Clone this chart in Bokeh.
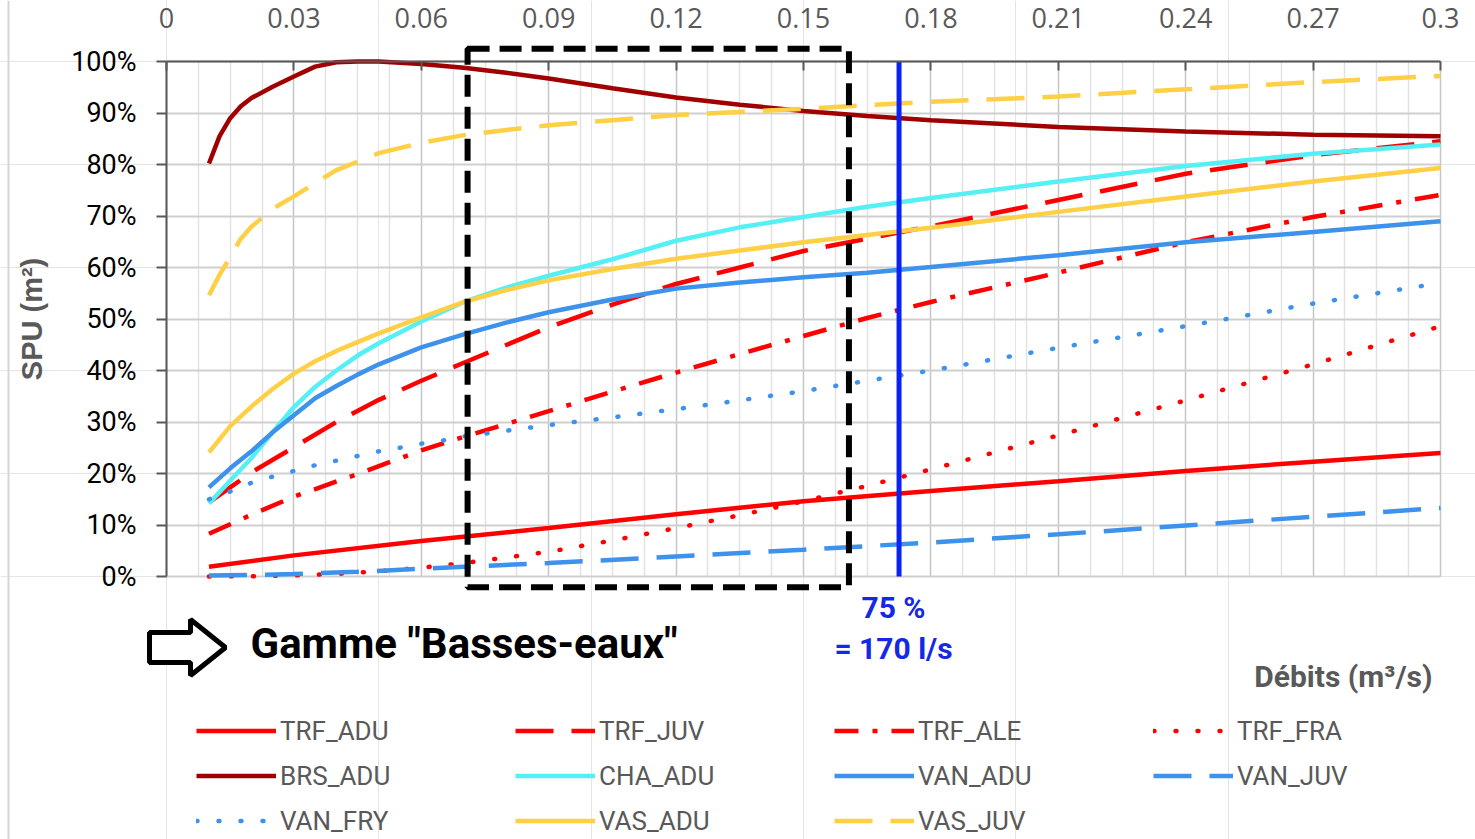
from bokeh.plotting import figure
from bokeh.models import (FixedTicker, Legend, LegendItem, BoxAnnotation, Span, Grid,
                          Label, PolyAnnotation, NumeralTickFormatter, Range1d, LinearAxis)
from bokeh.embed import file_html
from bokeh.resources import INLINE

# ---------------- data ----------------
X_TICKS = [0, 0.03, 0.06, 0.09, 0.12, 0.15, 0.18, 0.21, 0.24, 0.27, 0.3]
X_TICK_LABELS = ["0", "0.03", "0.06", "0.09", "0.12", "0.15", "0.18", "0.21", "0.24", "0.27", "0.3"]
Y_TICKS = [0, 10, 20, 30, 40, 50, 60, 70, 80, 90, 100]
Y_TICK_LABELS = ["0%", "10%", "20%", "30%", "40%", "50%", "60%", "70%", "80%", "90%", "100%"]

TRF_ADU_x = [0.01, 0.03, 0.06, 0.09, 0.12, 0.15, 0.18, 0.21, 0.24, 0.27, 0.30]
TRF_ADU_y = [1.9, 4.1, 6.9, 9.4, 12.1, 14.6, 16.6, 18.5, 20.5, 22.3, 24.0]

TRF_JUV_x = [0.01, 0.015, 0.02, 0.03, 0.04, 0.05, 0.06, 0.07, 0.09, 0.105, 0.12, 0.135,
             0.15, 0.165, 0.18, 0.21, 0.24, 0.27, 0.30]
TRF_JUV_y = [14.4, 17.3, 20.2, 25.1, 30.0, 34.3, 38.0, 41.5, 48.4, 52.8, 56.8, 60.0,
             63.2, 65.6, 68.0, 73.1, 78.2, 81.8, 84.5]

TRF_ALE_x = [0.01, 0.02, 0.03, 0.045, 0.06, 0.07, 0.09, 0.105, 0.12, 0.135, 0.15, 0.165,
             0.18, 0.21, 0.24, 0.27, 0.30]
TRF_ALE_y = [8.3, 12.0, 15.5, 19.9, 24.5, 27.1, 32.1, 35.9, 39.6, 43.2, 46.7, 50.2,
             53.3, 59.0, 64.9, 69.8, 74.1]

TRF_FRA_x = [0.01, 0.02, 0.03, 0.04, 0.05, 0.06, 0.07, 0.08, 0.09, 0.105, 0.12, 0.135,
             0.15, 0.165, 0.18, 0.21, 0.24, 0.27, 0.30]
TRF_FRA_y = [0.0, 0.05, 0.2, 0.5, 1.0, 1.7, 2.6, 3.7, 4.8, 7.0, 9.4, 11.9,
             14.6, 17.6, 20.8, 27.4, 34.2, 41.2, 48.6]

BRS_ADU_x = [0.01, 0.0125, 0.015, 0.0175, 0.02, 0.025, 0.03, 0.035, 0.04, 0.045, 0.05,
             0.06, 0.07, 0.08, 0.09, 0.105, 0.12, 0.135, 0.15, 0.165, 0.18, 0.21, 0.24,
             0.27, 0.30]
BRS_ADU_y = [80.2, 85.5, 89.0, 91.3, 92.9, 95.1, 97.1, 99.0, 99.85, 100.0, 100.0,
             99.5, 98.8, 97.8, 96.7, 94.8, 93.0, 91.6, 90.4, 89.4, 88.6, 87.3, 86.4,
             85.8, 85.5]

CHA_ADU_x = [0.01, 0.015, 0.02, 0.025, 0.03, 0.035, 0.04, 0.045, 0.05, 0.06, 0.07, 0.08,
             0.09, 0.105, 0.12, 0.135, 0.15, 0.165, 0.18, 0.21, 0.24, 0.27, 0.30]
CHA_ADU_y = [14.2, 18.6, 23.0, 28.0, 32.9, 36.8, 40.0, 42.9, 45.3, 49.5, 53.3, 56.1,
             58.4, 61.6, 65.2, 67.8, 69.8, 71.8, 73.5, 76.7, 79.7, 82.1, 83.9]

VAN_ADU_x = [0.01, 0.015, 0.02, 0.025, 0.03, 0.035, 0.04, 0.045, 0.05, 0.06, 0.07, 0.08,
             0.09, 0.105, 0.12, 0.135, 0.15, 0.165, 0.18, 0.21, 0.24, 0.27, 0.30]
VAN_ADU_y = [17.3, 21.0, 24.3, 28.0, 31.3, 34.6, 37.0, 39.2, 41.2, 44.5, 47.0, 49.3,
             51.3, 53.8, 55.9, 57.1, 58.1, 59.0, 60.1, 62.4, 64.9, 66.9, 69.0]

VAN_JUV_x = [0.01, 0.02, 0.03, 0.045, 0.06, 0.07, 0.09, 0.12, 0.15, 0.18, 0.21, 0.24, 0.27, 0.30]
VAN_JUV_y = [0.2, 0.3, 0.5, 0.9, 1.5, 1.9, 2.6, 3.9, 5.2, 6.6, 8.2, 9.9, 11.6, 13.3]

VAN_FRY_x = [0.01, 0.015, 0.02, 0.025, 0.03, 0.035, 0.04, 0.045, 0.05, 0.055, 0.06, 0.065,
             0.07, 0.08, 0.09, 0.105, 0.12, 0.135, 0.15, 0.165, 0.18, 0.21, 0.24, 0.27, 0.30]
VAN_FRY_y = [15.0, 16.5, 18.2, 19.4, 20.5, 21.6, 22.5, 23.4, 24.3, 25.0, 25.8, 26.4,
             27.2, 28.3, 29.4, 30.9, 32.5, 34.2, 36.0, 38.0, 40.0, 44.4, 48.6, 53.0, 57.0]

VAS_ADU_x = [0.01, 0.015, 0.02, 0.025, 0.03, 0.035, 0.04, 0.045, 0.05, 0.06, 0.07, 0.08,
             0.09, 0.105, 0.12, 0.135, 0.15, 0.165, 0.18, 0.21, 0.24, 0.27, 0.30]
VAS_ADU_y = [24.1, 29.2, 33.0, 36.4, 39.4, 41.8, 43.8, 45.5, 47.2, 50.3, 53.3, 55.6,
             57.5, 59.7, 61.7, 63.3, 64.9, 66.3, 67.7, 70.8, 73.8, 76.7, 79.3]

VAS_JUV_x = [0.01, 0.0125, 0.015, 0.0175, 0.02, 0.025, 0.03, 0.035, 0.04, 0.05, 0.06, 0.07,
             0.08, 0.09, 0.105, 0.12, 0.135, 0.15, 0.165, 0.18, 0.21, 0.24, 0.27, 0.30]
VAS_JUV_y = [54.6, 58.6, 62.0, 65.6, 67.9, 71.4, 73.8, 76.4, 78.9, 82.2, 84.2, 85.7,
             86.7, 87.6, 88.6, 89.6, 90.2, 90.8, 91.5, 92.2, 93.2, 94.6, 96.0, 97.2]

Q75_x = [0.1725]            # 75 % flow = 170 l/s
Q75_y = [0, 100]
LOW_FLOW_X = [0.0709, 0.1607]
LOW_FLOW_Y = [-2.1, 102.5]

# ---------------- styles ----------------
RED = "#FF0000"
DARKRED = "#A00000"
CYAN = "#55F0F5"
BLUE = "#3D92EC"
GOLD = "#FFCF45"
SOLID, LDASH, DASHDOT, DOT = "solid", "38 18", "24 14 5 14", "1 21"

series = [
    ("TRF_ADU", TRF_ADU_x, TRF_ADU_y, RED, SOLID, "butt"),
    ("TRF_JUV", TRF_JUV_x, TRF_JUV_y, RED, LDASH, "butt"),
    ("TRF_ALE", TRF_ALE_x, TRF_ALE_y, RED, DASHDOT, "butt"),
    ("TRF_FRA", TRF_FRA_x, TRF_FRA_y, RED, DOT, "round"),
    ("BRS_ADU", BRS_ADU_x, BRS_ADU_y, DARKRED, SOLID, "butt"),
    ("CHA_ADU", CHA_ADU_x, CHA_ADU_y, CYAN, SOLID, "butt"),
    ("VAN_ADU", VAN_ADU_x, VAN_ADU_y, BLUE, SOLID, "butt"),
    ("VAN_JUV", VAN_JUV_x, VAN_JUV_y, BLUE, LDASH, "butt"),
    ("VAN_FRY", VAN_FRY_x, VAN_FRY_y, BLUE, DOT, "round"),
    ("VAS_ADU", VAS_ADU_x, VAS_ADU_y, GOLD, SOLID, "butt"),
    ("VAS_JUV", VAS_JUV_x, VAS_JUV_y, GOLD, LDASH, "butt"),
]

# ---------------- layout: the frame covers the whole canvas ----------------
W, H = 1475, 839
PX0, PX1 = 166, 1440     # pixel columns of x = 0 and x = 0.3
PY0, PY1 = 576, 61       # pixel rows of y = 0 % and y = 100 %
kx = 0.3 / (PX1 - PX0)
ky = 100.0 / (PY0 - PY1)

def px2x(px):
    return (px - PX0) * kx

def py2y(py):
    return (PY0 - py) * ky

p = figure(width=W, height=H, x_range=Range1d(px2x(0), px2x(W)),
           y_range=Range1d(py2y(H), py2y(0)), output_backend="svg",
           toolbar_location=None, x_axis_location=None, y_axis_location=None,
           min_border=0)
p.background_fill_color = "white"
p.border_fill_color = "white"
p.outline_line_color = None

minor = [round(k * 0.0075, 4) for k in range(41) if k % 4 != 0]
xticker = FixedTicker(ticks=X_TICKS, minor_ticks=minor)
yticker = FixedTicker(ticks=Y_TICKS, minor_ticks=[])

# grids
xgrid = Grid(dimension=0, ticker=xticker, bounds=(0, 0.3), cross_bounds=(0, 100),
             grid_line_color="#c6c6c6", grid_line_width=1.5,
             minor_grid_line_color="#e2e2e2", minor_grid_line_width=1.5)
ygrid = Grid(dimension=1, ticker=yticker, bounds=(0, 100), cross_bounds=(0, 0.3),
             grid_line_color="#cfcfcf", grid_line_width=2)
p.add_layout(xgrid)
p.add_layout(ygrid)

# x axis (top, at 100 %)
xa = LinearAxis(fixed_location=100, bounds=(0, 0.3), ticker=xticker,
                formatter=NumeralTickFormatter(format="0.[00]"))
xa.major_label_overrides = dict(zip(X_TICKS, X_TICK_LABELS))
xa.major_label_text_font = "Open Sans"
xa.major_label_text_font_size = "27px"
xa.major_label_text_color = "#595959"
xa.major_label_standoff = 34
xa.major_tick_in = 9
xa.major_tick_out = 0
xa.minor_tick_in = 0
xa.minor_tick_out = 0
xa.axis_line_color = "#595959"
xa.axis_line_width = 2
xa.major_tick_line_color = "#595959"
xa.major_tick_line_width = 2
p.add_layout(xa, "above")

# y axis (left, at x = 0)
ya = LinearAxis(fixed_location=0, bounds=(0, 100), ticker=yticker)
ya.major_label_overrides = dict(zip(Y_TICKS, Y_TICK_LABELS))
ya.major_label_text_font = "Roboto"
ya.major_label_text_font_size = "27px"
ya.major_label_text_color = "black"
ya.major_label_standoff = 20
ya.major_tick_in = 0
ya.major_tick_out = 10
ya.minor_tick_in = 0
ya.minor_tick_out = 0
ya.axis_line_color = "#595959"
ya.axis_line_width = 2
ya.major_tick_line_color = "#595959"
ya.major_tick_line_width = 2
ya.axis_label = "SPU (m²)"
ya.axis_label_text_font = "Liberation Sans"
ya.axis_label_text_font_style = "bold"
ya.axis_label_text_font_size = "29px"
ya.axis_label_text_color = "#595959"
ya.axis_label_standoff = 20
p.add_layout(ya, "left")

# thin chart-area border on the left edge
p.add_layout(Span(location=px2x(8), dimension="height", line_color="#d6d6d6", line_width=2))

items = []
for name, xs, ys, color, dash, cap in series:
    r = p.line(xs, ys, line_color=color, line_width=4.5, line_dash=dash, line_cap=cap)
    items.append(LegendItem(label=name, renderers=[r]))

# 75 % flow line
p.segment(x0=Q75_x, y0=[Q75_y[0]], x1=Q75_x, y1=[Q75_y[1]],
          line_color="#0A22F5", line_width=5)

# low flow dashed box
p.add_layout(BoxAnnotation(left=LOW_FLOW_X[0], right=LOW_FLOW_X[1],
                           bottom=LOW_FLOW_Y[0], top=LOW_FLOW_Y[1], fill_alpha=0,
                           line_color="black", line_alpha=1, line_width=6,
                           line_dash="22 10"))

# block arrow
arrow_px = [(149, 632), (190, 632), (190, 619), (225, 647), (190, 675), (190, 662), (149, 662)]
p.add_layout(PolyAnnotation(xs=[px2x(a) for a, b in arrow_px],
                            ys=[py2y(b) for a, b in arrow_px],
                            fill_color="white", fill_alpha=1, line_color="black",
                            line_alpha=1, line_width=5))

p.add_layout(Label(x=px2x(250), y=py2y(643), text='Gamme "Basses-eaux"',
                   text_font="Roboto", text_font_style="bold",
                   text_font_size="42px", text_color="black", text_baseline="middle",
                   text_align="left"))
p.add_layout(Label(x=px2x(893), y=py2y(607), text="75 %", text_font="Roboto",
                   text_font_style="bold", text_font_size="30px", text_color="#1428E6",
                   text_baseline="middle", text_align="center"))
p.add_layout(Label(x=px2x(893), y=py2y(648), text="= 170 l/s", text_font="Roboto",
                   text_font_style="bold", text_font_size="30px", text_color="#1428E6",
                   text_baseline="middle", text_align="center"))
p.add_layout(Label(x=px2x(1432), y=py2y(676), text="Débits (m³/s)",
                   text_font="Roboto", text_font_style="bold",
                   text_font_size="30px", text_color="#595959", text_baseline="middle",
                   text_align="right"))

legend = Legend(items=items, location=(196, -4), orientation="horizontal", ncols=4,
                glyph_width=80, glyph_height=45, label_standoff=4, label_width=235,
                label_height=45, spacing=0, padding=0, margin=0,
                label_text_font="Roboto", label_text_font_size="26px",
                label_text_color="#595959", border_line_alpha=0,
                background_fill_alpha=0)
p.add_layout(legend)

open("out.html", "w").write(file_html(p, INLINE))
